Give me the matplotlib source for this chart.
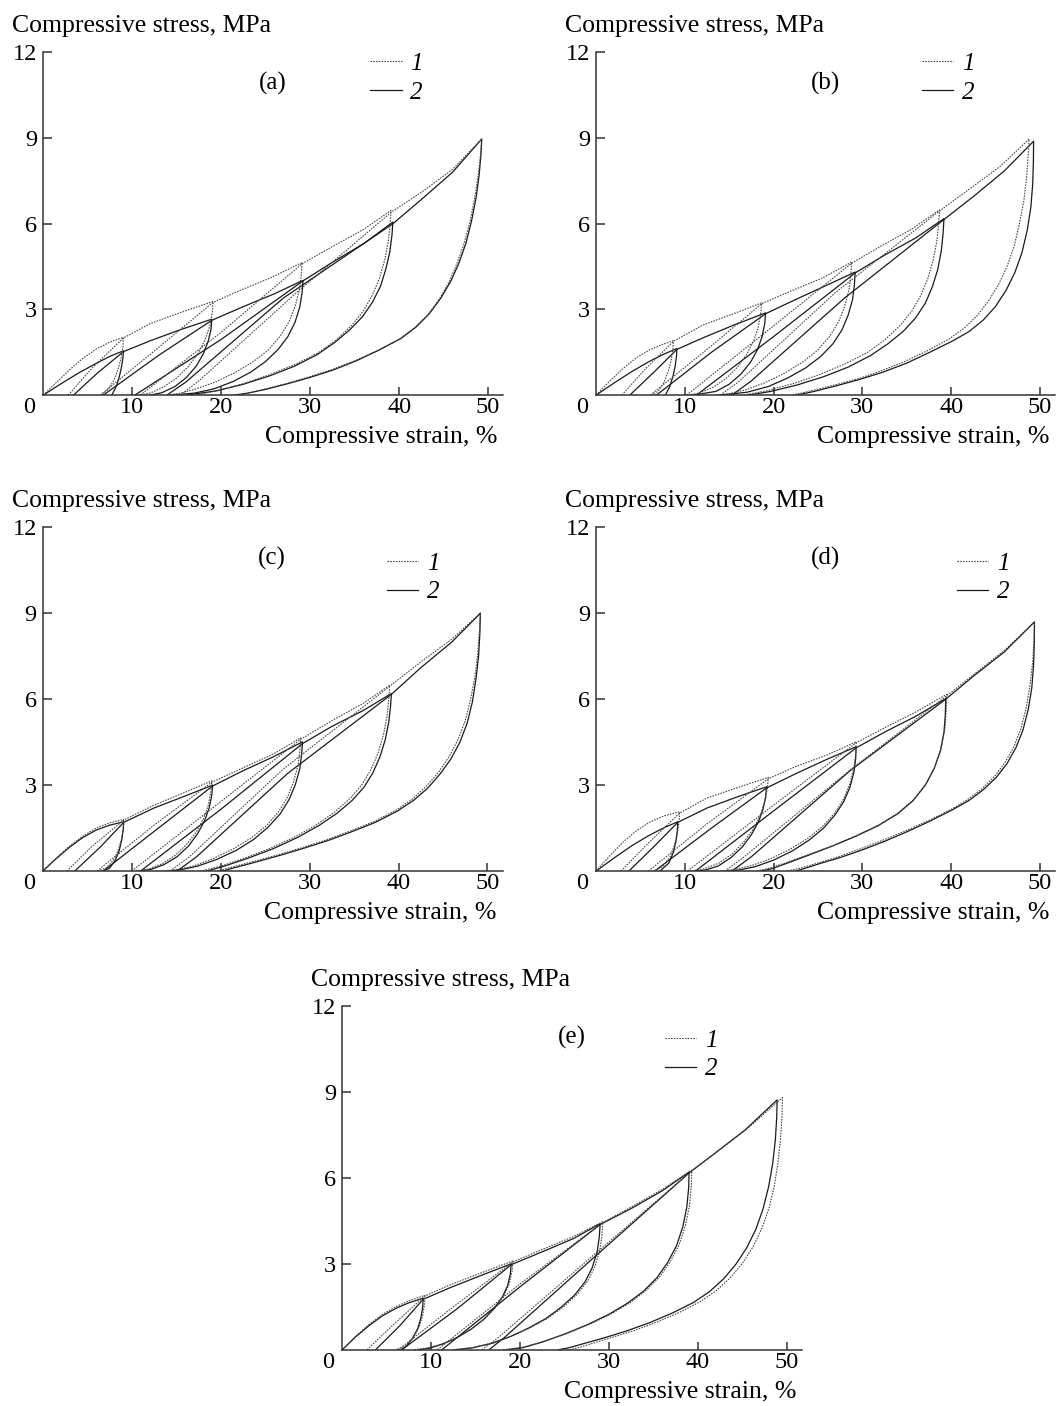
import numpy as np
import matplotlib.pyplot as plt
from matplotlib.lines import Line2D

plt.rcParams['font.family'] = ['Liberation Serif', 'DejaVu Serif']

# every cycle = reload up to the peak, then unload back to zero stress
# points are (compressive strain %, compressive stress MPa)

# ---- panel (a)
a1_cycles = [
    [(0, 0), (1.5, 0.45), (3, 0.9), (4.5, 1.3), (6, 1.62), (7.5, 1.86), (9.0, 2.02),
     (8.95, 1.7), (8.75, 1.3), (8.4, 0.9), (7.9, 0.5), (7.3, 0.2), (6.5, 0)],
    [(2.8, 0), (5.5, 0.95), (9.0, 2.0), (12, 2.5), (15.5, 2.9), (19.1, 3.28),
     (19.0, 2.9), (18.7, 2.4), (18.2, 1.95), (17.4, 1.45), (16.3, 1.0), (15, 0.6), (13.5, 0.28),
     (12.1, 0.08), (10.9, 0)],
    [(6.4, 0), (12.5, 1.55), (19.1, 3.25), (22, 3.65), (25.5, 4.1), (29.1, 4.64),
     (29.0, 4.2), (28.8, 3.7), (28.3, 3.1), (27.6, 2.55), (26.6, 2.05), (25.2, 1.55), (23.5, 1.15),
     (21.5, 0.78), (19.3, 0.45), (17, 0.2), (15.3, 0.06), (13.9, 0)],
    [(10.9, 0), (20, 2.2), (29.1, 4.6), (32.5, 5.2), (36, 5.8), (39.1, 6.47),
     (39.0, 6.0), (38.8, 5.4), (38.4, 4.75), (37.8, 4.1), (37, 3.5), (36, 2.95), (34.7, 2.45),
     (33, 1.95), (31, 1.5), (28.5, 1.1), (25.5, 0.72), (22.5, 0.4), (19.5, 0.15), (17.1, 0)],
    [(15.4, 0), (17.5, 0.5), (28.5, 3.6), (39.1, 6.4), (42.5, 7.1), (46, 7.9), (49.3, 8.97),
     (49.15, 8.4), (48.9, 7.7), (48.5, 6.9), (48.0, 6.1), (47.3, 5.3), (46.5, 4.6), (45.6, 3.95),
     (44.5, 3.35), (43.2, 2.8), (41.7, 2.35), (40, 1.95), (37.5, 1.55), (35, 1.2), (32.5, 0.9),
     (30, 0.65), (27.5, 0.42), (25, 0.22), (23.3, 0.09), (22.1, 0)],
]
a2_cycles = [
    [(0, 0), (2, 0.4), (4, 0.78), (6, 1.12), (7.5, 1.36), (9.0, 1.55),
     (8.95, 1.3), (8.8, 1.0), (8.55, 0.65), (8.2, 0.3), (7.7, 0)],
    [(3.4, 0), (6, 0.75), (9.0, 1.52), (12, 1.9), (15.5, 2.3), (18.95, 2.66),
     (18.85, 2.3), (18.55, 1.9), (18.0, 1.45), (17.2, 1.02), (16.1, 0.62), (14.8, 0.3),
     (13.3, 0.08), (12.0, 0)],
    [(6.75, 0), (13, 1.4), (18.95, 2.62), (22.5, 3.1), (26, 3.55), (29.2, 4.02),
     (29.1, 3.6), (28.85, 3.1), (28.3, 2.55), (27.5, 2.05), (26.4, 1.6), (25, 1.18), (23.3, 0.8),
     (21.3, 0.47), (19.2, 0.22), (17, 0.07), (14.5, 0)],
    [(10.3, 0), (20, 1.95), (29.2, 4.0), (32.5, 4.65), (36, 5.3), (39.3, 6.06),
     (39.2, 5.6), (38.95, 5.0), (38.5, 4.4), (37.9, 3.8), (37, 3.25), (35.9, 2.75), (34.5, 2.3),
     (32.8, 1.85), (30.8, 1.42), (28.3, 1.02), (25.5, 0.68), (22.5, 0.38), (19.5, 0.15), (16.1, 0)],
    [(13.9, 0), (16, 0.45), (27, 3.4), (39.3, 6.0), (42.5, 6.85), (46, 7.8), (49.3, 8.97),
     (49.2, 8.4), (49.0, 7.7), (48.65, 6.9), (48.15, 6.1), (47.5, 5.3), (46.7, 4.6), (45.8, 3.98),
     (44.7, 3.4), (43.4, 2.85), (41.9, 2.38), (40.2, 1.98), (37.7, 1.57), (35.2, 1.2), (32.6, 0.88),
     (30, 0.62), (27.5, 0.4), (25, 0.2), (23, 0.07), (21.5, 0)],
]

# ---- panel (b)
b1_cycles = [
    [(0, 0), (1.5, 0.48), (3, 0.92), (4.5, 1.3), (6, 1.58), (7.5, 1.78), (8.7, 1.9),
     (8.65, 1.6), (8.45, 1.2), (8.1, 0.8), (7.6, 0.42), (7.0, 0.14), (6.3, 0)],
    [(2.9, 0), (5.5, 0.9), (8.7, 1.88), (12, 2.45), (15.5, 2.85), (18.65, 3.23),
     (18.55, 2.85), (18.25, 2.35), (17.75, 1.9), (16.95, 1.42), (15.9, 0.97), (14.6, 0.57),
     (13.1, 0.26), (11.6, 0.07), (10.2, 0)],
    [(6.1, 0), (12.5, 1.6), (18.65, 3.2), (22, 3.65), (25.5, 4.1), (28.8, 4.66),
     (28.7, 4.2), (28.5, 3.7), (28.0, 3.1), (27.3, 2.55), (26.3, 2.05), (24.9, 1.55), (23.2, 1.14),
     (21.2, 0.76), (19, 0.43), (16.8, 0.18), (15, 0.05), (13.5, 0)],
    [(10.2, 0), (19.5, 2.3), (28.8, 4.62), (32, 5.2), (35.5, 5.8), (38.7, 6.49),
     (38.6, 6.0), (38.4, 5.4), (38.0, 4.75), (37.4, 4.1), (36.6, 3.5), (35.6, 2.95), (34.3, 2.45),
     (32.6, 1.95), (30.6, 1.5), (28.1, 1.1), (25.2, 0.72), (22.2, 0.4), (19.2, 0.15), (16.6, 0)],
    [(14.0, 0), (16, 0.45), (27, 3.6), (38.7, 6.45), (42, 7.2), (45.5, 8.0), (48.8, 8.97),
     (48.7, 8.4), (48.5, 7.6), (48.2, 6.8), (47.7, 6.0), (47.1, 5.2), (46.3, 4.5), (45.4, 3.9),
     (44.3, 3.33), (43.0, 2.8), (41.5, 2.35), (39.8, 1.97), (37.3, 1.55), (34.8, 1.18), (32.3, 0.87),
     (29.8, 0.6), (27.2, 0.38), (24.6, 0.18), (23, 0.06), (22.0, 0)],
]
b2_cycles = [
    [(0, 0), (2, 0.42), (4, 0.82), (6, 1.18), (7.6, 1.43), (9.1, 1.63),
     (9.05, 1.35), (8.9, 1.0), (8.65, 0.65), (8.3, 0.3), (7.8, 0)],
    [(3.8, 0), (6.5, 0.8), (9.1, 1.6), (12, 2.0), (15.5, 2.45), (19.1, 2.88),
     (19.0, 2.5), (18.7, 2.05), (18.2, 1.6), (17.4, 1.15), (16.3, 0.73), (15, 0.38), (13.5, 0.13),
     (11.0, 0)],
    [(6.8, 0), (13, 1.5), (19.1, 2.85), (22.5, 3.35), (26, 3.85), (29.2, 4.31),
     (29.1, 3.85), (28.9, 3.35), (28.4, 2.8), (27.7, 2.28), (26.7, 1.8), (25.3, 1.35), (23.6, 0.95),
     (21.6, 0.6), (19.4, 0.3), (17, 0.1), (14.0, 0)],
    [(11.3, 0), (20, 2.05), (29.2, 4.28), (32.5, 4.9), (36, 5.5), (39.2, 6.18),
     (39.1, 5.65), (38.9, 5.05), (38.5, 4.4), (37.9, 3.8), (37.1, 3.22), (36, 2.7), (34.6, 2.23),
     (32.9, 1.8), (30.9, 1.38), (28.4, 0.98), (25.6, 0.64), (22.6, 0.35), (19.7, 0.13), (17.2, 0)],
    [(15.3, 0), (17.5, 0.5), (28, 3.4), (39.2, 6.15), (42.5, 6.95), (46, 7.85), (49.3, 8.89),
     (49.28, 8.2), (49.2, 7.4), (49.0, 6.6), (48.6, 5.8), (48.0, 5.0), (47.2, 4.3), (46.2, 3.67),
     (45.0, 3.1), (43.6, 2.62), (42.0, 2.22), (40.2, 1.9), (37.6, 1.5), (35, 1.12), (32.3, 0.8),
     (29.6, 0.54), (27, 0.32), (24.6, 0.13), (22.6, 0)],
]

# ---- panel (c)
c1_cycles = [
    [(0, 0), (1.5, 0.45), (3, 0.87), (4.5, 1.22), (6, 1.5), (7.5, 1.68), (9.1, 1.8),
     (9.05, 1.5), (8.85, 1.12), (8.5, 0.75), (8.0, 0.4), (7.2, 0.12), (6.2, 0)],
    [(2.7, 0), (5.5, 0.85), (9.1, 1.78), (12.5, 2.3), (16, 2.75), (19.0, 3.15),
     (18.9, 2.78), (18.6, 2.3), (18.1, 1.85), (17.3, 1.38), (16.2, 0.94), (14.9, 0.55),
     (13.4, 0.25), (11.9, 0.07), (10.5, 0)],
    [(6.1, 0), (12.5, 1.6), (19.0, 3.1), (22.5, 3.6), (26, 4.1), (29.0, 4.65),
     (28.9, 4.2), (28.7, 3.7), (28.2, 3.12), (27.5, 2.57), (26.5, 2.07), (25.1, 1.57), (23.4, 1.15),
     (21.4, 0.77), (19.2, 0.44), (17, 0.18), (15.1, 0.05), (13.5, 0)],
    [(10.0, 0), (19.5, 2.3), (29.0, 4.6), (32.5, 5.25), (36, 5.85), (39.0, 6.49),
     (38.9, 6.0), (38.7, 5.4), (38.3, 4.75), (37.7, 4.12), (36.9, 3.55), (35.9, 3.02), (34.6, 2.55),
     (32.9, 2.08), (30.9, 1.64), (28.4, 1.2), (25.6, 0.8), (22.8, 0.46), (20.1, 0.18), (17.8, 0)],
    [(14.3, 0), (16.5, 0.5), (27, 3.55), (39.0, 6.45), (42.5, 7.3), (46, 8.1), (49.2, 9.01),
     (49.1, 8.4), (48.9, 7.6), (48.6, 6.8), (48.1, 6.0), (47.5, 5.25), (46.7, 4.6), (45.7, 4.0),
     (44.5, 3.45), (43.1, 2.95), (41.5, 2.5), (39.7, 2.12), (37.2, 1.72), (34.6, 1.4), (32, 1.1),
     (29.3, 0.83), (26.5, 0.57), (23.5, 0.32), (21.2, 0.13), (19.6, 0)],
]
c2_cycles = [
    [(0, 0), (1.5, 0.43), (3, 0.83), (4.5, 1.17), (6, 1.43), (7.5, 1.6), (9.1, 1.72),
     (9.05, 1.45), (8.88, 1.1), (8.6, 0.72), (8.15, 0.37), (7.5, 0.1), (6.8, 0)],
    [(3.6, 0), (6.5, 0.85), (9.1, 1.7), (12.5, 2.2), (16, 2.62), (19.1, 3.0),
     (19.0, 2.65), (18.7, 2.2), (18.2, 1.76), (17.4, 1.3), (16.4, 0.88), (15.1, 0.5),
     (13.6, 0.22), (12.2, 0.06), (11.0, 0)],
    [(6.8, 0), (13, 1.5), (19.1, 2.97), (22.5, 3.5), (26, 4.0), (29.2, 4.51),
     (29.1, 4.07), (28.9, 3.58), (28.4, 3.02), (27.7, 2.5), (26.7, 2.0), (25.3, 1.52), (23.7, 1.1),
     (21.8, 0.73), (19.6, 0.41), (17.4, 0.17), (15.6, 0.05), (14.3, 0)],
    [(11.0, 0), (20, 2.15), (29.2, 4.45), (32.5, 5.05), (36, 5.6), (39.2, 6.2),
     (39.1, 5.75), (38.9, 5.2), (38.5, 4.58), (37.9, 3.98), (37.1, 3.42), (36.1, 2.92), (34.8, 2.47),
     (33.1, 2.02), (31.1, 1.6), (28.7, 1.18), (25.9, 0.78), (23.1, 0.45), (20.5, 0.18), (18.5, 0)],
    [(15.1, 0), (17.3, 0.5), (27.5, 3.4), (39.2, 6.17), (42.5, 7.1), (46, 8.0), (49.2, 9.0),
     (49.15, 8.35), (49.0, 7.5), (48.7, 6.7), (48.3, 5.9), (47.7, 5.15), (46.9, 4.5), (45.9, 3.92),
     (44.7, 3.4), (43.3, 2.9), (41.7, 2.47), (39.9, 2.1), (37.4, 1.7), (34.8, 1.38), (32.2, 1.08),
     (29.5, 0.81), (26.7, 0.55), (23.8, 0.3), (21.6, 0.12), (20.2, 0)],
]

# ---- panel (d)
d1_cycles = [
    [(0, 0), (1.5, 0.52), (3, 1.0), (4.5, 1.4), (6, 1.7), (7.7, 1.93), (9.4, 2.07),
     (9.35, 1.75), (9.15, 1.3), (8.8, 0.88), (8.3, 0.48), (7.5, 0.15), (6.5, 0)],
    [(2.8, 0), (5.8, 0.95), (9.4, 2.02), (12.5, 2.55), (16, 2.92), (19.4, 3.27),
     (19.3, 2.9), (19.0, 2.42), (18.5, 1.95), (17.7, 1.46), (16.6, 1.0), (15.3, 0.59),
     (13.8, 0.27), (12.1, 0.07), (10.5, 0)],
    [(5.9, 0), (12.5, 1.65), (19.4, 3.22), (22.5, 3.65), (26, 4.05), (29.3, 4.51),
     (29.25, 4.1), (29.05, 3.6), (28.6, 3.05), (27.9, 2.52), (26.9, 2.03), (25.5, 1.55),
     (23.8, 1.13), (21.8, 0.75), (19.6, 0.42), (17.4, 0.18), (15.5, 0.05), (14.0, 0)],
    [(10.3, 0), (20, 2.3), (29.3, 4.48), (32.5, 5.0), (36, 5.55), (39.5, 6.17),
     (39.45, 5.6), (39.3, 4.95), (38.9, 4.3), (38.2, 3.65), (37.2, 3.05), (35.8, 2.5), (34, 2.02),
     (31.8, 1.6), (29.4, 1.25), (26.8, 0.9), (24, 0.58), (21.3, 0.28), (19.3, 0.08), (18.0, 0)],
    [(14.5, 0), (16.5, 0.45), (28.6, 3.52), (39.5, 6.12), (42.5, 6.85), (46, 7.7), (49.4, 8.7),
     (49.35, 8.1), (49.2, 7.3), (48.9, 6.5), (48.5, 5.75), (47.9, 5.0), (47.1, 4.35), (46.1, 3.8),
     (44.9, 3.3), (43.4, 2.85), (41.8, 2.48), (40, 2.15), (37.5, 1.77), (35, 1.42), (32.5, 1.1),
     (30, 0.8), (27.5, 0.52), (25, 0.28), (23, 0.1), (21.5, 0)],
]
d2_cycles = [
    [(0, 0), (2, 0.45), (4, 0.88), (6, 1.25), (7.7, 1.52), (9.2, 1.72),
     (9.15, 1.42), (9.0, 1.05), (8.7, 0.65), (8.2, 0.28), (7.2, 0)],
    [(3.7, 0), (6.5, 0.85), (9.2, 1.7), (12.5, 2.2), (16, 2.6), (19.2, 2.94),
     (19.1, 2.58), (18.8, 2.15), (18.3, 1.72), (17.5, 1.27), (16.5, 0.85), (15.2, 0.47),
     (13.8, 0.18), (12.4, 0.04), (11.3, 0)],
    [(6.6, 0), (13, 1.5), (19.2, 2.9), (22.5, 3.4), (26, 3.9), (29.3, 4.34),
     (29.25, 3.92), (29.05, 3.45), (28.6, 2.92), (27.9, 2.42), (26.9, 1.95), (25.6, 1.49),
     (24, 1.08), (22.1, 0.7), (20, 0.38), (17.9, 0.15), (16.2, 0.04), (14.8, 0)],
    [(11.2, 0), (20, 2.1), (29.3, 4.3), (32.5, 4.85), (36, 5.4), (39.4, 6.02),
     (39.35, 5.45), (39.2, 4.85), (38.8, 4.2), (38.1, 3.58), (37.1, 3.0), (35.7, 2.45), (33.9, 1.98),
     (31.7, 1.57), (29.3, 1.22), (26.7, 0.88), (24, 0.56), (21.5, 0.27), (19.8, 0.08), (18.6, 0)],
    [(15.3, 0), (17.5, 0.5), (28.6, 3.5), (39.4, 6.0), (42.5, 6.8), (46, 7.65), (49.4, 8.7),
     (49.38, 8.0), (49.3, 7.2), (49.1, 6.4), (48.7, 5.65), (48.1, 4.92), (47.3, 4.3), (46.3, 3.75),
     (45.1, 3.27), (43.6, 2.83), (42, 2.46), (40.1, 2.13), (37.6, 1.74), (35.1, 1.38), (32.6, 1.05),
     (30.1, 0.75), (27.6, 0.48), (25.1, 0.25), (23.6, 0.1), (22.5, 0)],
]

# ---- panel (e)
e1_cycles = [
    [(0, 0), (1.5, 0.47), (3, 0.88), (4.5, 1.23), (6, 1.5), (7.6, 1.72), (9.3, 1.9),
     (9.25, 1.6), (9.05, 1.2), (8.65, 0.8), (8.0, 0.42), (7.1, 0.13), (6.0, 0)],
    [(2.8, 0), (6, 0.95), (9.3, 1.88), (12, 2.25), (15.5, 2.67), (19.2, 3.1),
     (19.1, 2.75), (18.8, 2.32), (18.2, 1.9), (17.3, 1.5), (16.1, 1.1), (14.6, 0.74), (12.9, 0.43),
     (11.2, 0.2), (9.5, 0.06), (8.0, 0)],
    [(6.3, 0), (12.5, 1.5), (19.2, 3.07), (22.5, 3.5), (26, 3.95), (29.3, 4.47),
     (29.2, 4.0), (28.95, 3.45), (28.4, 2.9), (27.6, 2.4), (26.4, 1.93), (24.9, 1.5), (23.1, 1.1),
     (21.1, 0.76), (19, 0.47), (16.8, 0.23), (14.5, 0.07), (12.3, 0)],
    [(10.7, 0), (20, 2.3), (29.3, 4.44), (32.5, 4.98), (36, 5.6), (39.3, 6.27),
     (39.25, 5.7), (39.05, 5.05), (38.6, 4.35), (37.9, 3.68), (36.9, 3.08), (35.7, 2.55), (34.2, 2.08),
     (32.4, 1.65), (30.3, 1.26), (27.9, 0.9), (25.3, 0.57), (22.6, 0.28), (20.2, 0.08), (18.0, 0)],
    [(15.7, 0), (17.6, 0.44), (28.1, 3.26), (39.3, 6.25), (42.3, 6.95), (45.5, 7.7), (49.5, 8.8),
     (49.45, 8.2), (49.3, 7.4), (49.0, 6.55), (48.6, 5.75), (48.0, 4.95), (47.2, 4.25), (46.2, 3.6),
     (45.0, 3.02), (43.6, 2.5), (42.0, 2.05), (40.2, 1.67), (37.9, 1.3), (35.4, 0.97), (32.8, 0.67),
     (30.2, 0.42), (28.2, 0.23), (26.6, 0.08), (25.6, 0)],
]
e2_cycles = [
    [(0, 0), (1.5, 0.45), (3, 0.84), (4.5, 1.18), (6, 1.44), (7.5, 1.64), (9.1, 1.8),
     (9.05, 1.5), (8.85, 1.12), (8.5, 0.75), (7.9, 0.4), (7.2, 0.12), (6.6, 0)],
    [(3.75, 0), (6.5, 0.85), (9.1, 1.76), (12, 2.15), (15.5, 2.58), (19.0, 3.0),
     (18.9, 2.65), (18.6, 2.24), (18.0, 1.84), (17.1, 1.45), (15.9, 1.06), (14.5, 0.72),
     (12.9, 0.42), (11.3, 0.2), (9.9, 0.06), (8.6, 0)],
    [(6.7, 0), (13, 1.45), (19.0, 2.97), (22.5, 3.42), (26, 3.88), (29.0, 4.4),
     (28.9, 3.93), (28.65, 3.4), (28.1, 2.86), (27.3, 2.37), (26.1, 1.9), (24.6, 1.48), (22.9, 1.09),
     (20.9, 0.75), (18.9, 0.46), (16.9, 0.23), (14.7, 0.07), (12.8, 0)],
    [(11.2, 0), (20, 2.2), (29.0, 4.37), (32.5, 4.93), (36, 5.55), (39.0, 6.2),
     (38.95, 5.65), (38.75, 5.0), (38.3, 4.3), (37.6, 3.64), (36.6, 3.05), (35.4, 2.52), (33.9, 2.05),
     (32.1, 1.63), (30, 1.24), (27.6, 0.88), (25.1, 0.56), (22.6, 0.28), (20.4, 0.08), (18.6, 0)],
    [(16.5, 0), (18.2, 0.42), (28.3, 3.22), (39.0, 6.17), (42, 6.88), (45.3, 7.67), (48.9, 8.72),
     (48.85, 8.1), (48.7, 7.33), (48.4, 6.5), (47.95, 5.7), (47.3, 4.9), (46.5, 4.2), (45.5, 3.57),
     (44.3, 3.0), (42.9, 2.48), (41.3, 2.03), (39.5, 1.65), (37.1, 1.28), (34.6, 0.95), (32.0, 0.66),
     (29.4, 0.41), (27.2, 0.22), (25.5, 0.07), (24.3, 0)],
]

panel_labels = ['(a)', '(b)', '(c)', '(d)', '(e)']
series_1 = [a1_cycles, b1_cycles, c1_cycles, d1_cycles, e1_cycles]
series_2 = [a2_cycles, b2_cycles, c2_cycles, d2_cycles, e2_cycles]
legend_labels = ['1', '2']
x_ticks = [10, 20, 30, 40, 50]
y_ticks = [3, 6, 9, 12]

# layout (figure fractions) and legend anchors (axes fractions)
rects = [
    [0.041, 0.719, 0.435, 0.2437],
    [0.564, 0.719, 0.434, 0.2437],
    [0.0405, 0.3805, 0.435, 0.2444],
    [0.564, 0.3805, 0.434, 0.2444],
    [0.3238, 0.040, 0.435, 0.2446],
]
legend_anchor = [(0.711, 1.0), (0.71, 1.0), (0.748, 0.928), (0.786, 0.928), (0.702, 0.932)]

dot_style = dict(color='#444444', lw=0.8, ls=(0, (1.4, 1.1)))
solid_style = dict(color='#1a1a1a', lw=0.9, ls='-')

fig = plt.figure(figsize=(10.57, 14.06), dpi=100)

for i in range(5):
    ax = fig.add_axes(rects[i])
    for cyc in series_2[i]:
        pts = np.array(cyc)
        ax.plot(pts[:, 0], pts[:, 1], **solid_style)
    for cyc in series_1[i]:
        pts = np.array(cyc)
        ax.plot(pts[:, 0], pts[:, 1], **dot_style)

    ax.set_xlim(0, 51.7)
    ax.set_ylim(0, 12)
    ax.spines['top'].set_visible(False)
    ax.spines['right'].set_visible(False)
    for s in ['left', 'bottom']:
        ax.spines[s].set_linewidth(1.1)
        ax.spines[s].set_color('#333333')
    ax.set_xticks(x_ticks)
    ax.set_yticks(y_ticks)
    ax.tick_params(axis='both', direction='in', color='#333333', width=1.1, labelsize=17.5)
    ax.tick_params(axis='x', length=6, pad=1.5)
    ax.tick_params(axis='y', length=6.5, pad=4.3)

    # shared corner zero
    ax.annotate('0', xy=(0, 0), xycoords='axes fraction', xytext=(-14, -2),
                textcoords='offset pixels', ha='center', va='top', fontsize=17.5)
    ax.annotate('Compressive stress, MPa', xy=(0, 1), xycoords='axes fraction',
                xytext=(-31, 26), textcoords='offset pixels', ha='left', va='center',
                fontsize=18.5)
    ax.annotate('Compressive strain, %', xy=(1, 0), xycoords='axes fraction',
                xytext=(-6, -42), textcoords='offset pixels', ha='right', va='center',
                fontsize=18.5)
    ax.text(25.8, 10.9, panel_labels[i], ha='center', va='center', fontsize=18)

    handles = [Line2D([], [], **dot_style), Line2D([], [], **solid_style)]
    ax.legend(handles, legend_labels, loc='upper left', bbox_to_anchor=legend_anchor[i],
              frameon=False, borderpad=0, borderaxespad=0, handlelength=1.25,
              handletextpad=0.35, labelspacing=0.25,
              prop={'family': 'Liberation Serif', 'style': 'italic', 'size': 18})

fig.savefig('out.png', dpi=100)
